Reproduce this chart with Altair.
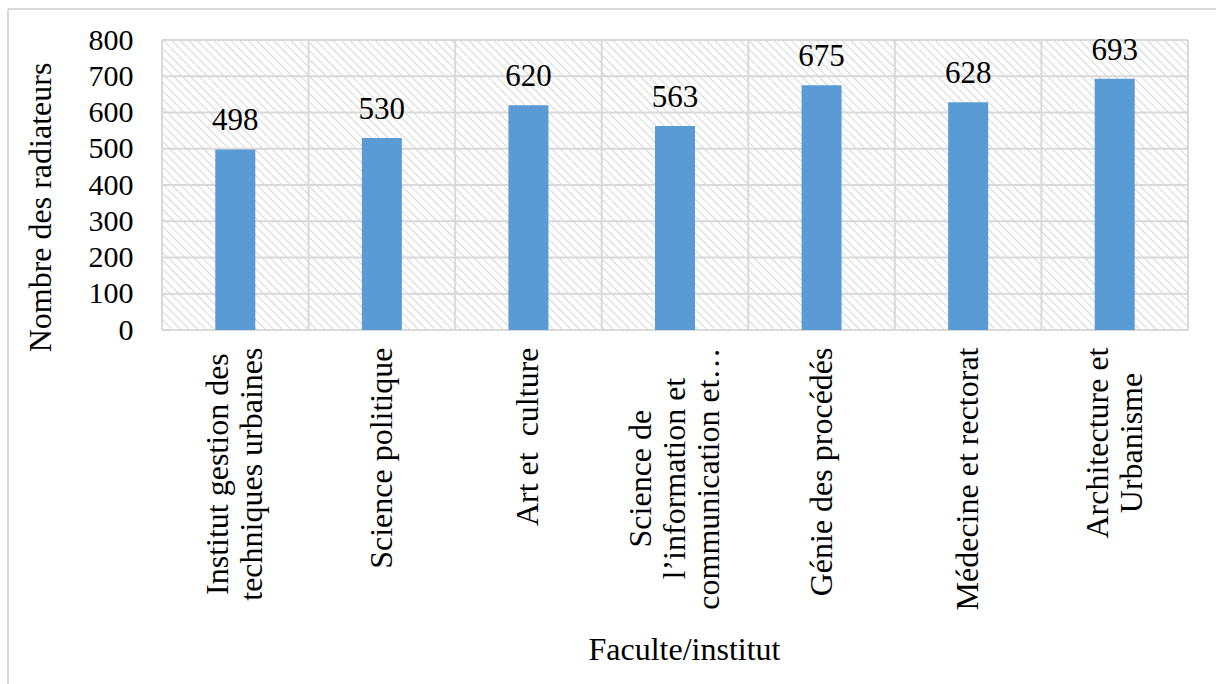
import base64
import altair as alt
import pandas as pd

# Number of radiators per faculty / institute
categories = [
    "Institut gestion des|techniques urbaines",
    "Science politique",
    "Art et\u00a0 culture",
    "Science de|l’information et|communication et…",
    "Génie des procédés",
    "Médecine et rectorat",
    "Architecture et|Urbanisme",
]
radiators = [498, 530, 620, 563, 675, 628, 693]
y_ticks = [0, 100, 200, 300, 400, 500, 600, 700, 800]

W, H = 1026, 290
FONT = "Liberation Serif"
LABEL_SIZE = 32
LINE_H = 34
BAR = "#5B9BD5"
GRID = "#d9d9d9"

# Advance widths of the serif face (1/1000 em), used to centre the
# rotated multi-line category labels just below the axis.
ADV = {
    " ": 250, "\u00a0": 250, "A": 722, "G": 722, "I": 333, "M": 889, "S": 556,
    "U": 722, "a": 444, "b": 500, "c": 444, "d": 500, "e": 444, "é": 444,
    "f": 333, "g": 500, "h": 500, "i": 278, "l": 278, "m": 778, "n": 500,
    "o": 500, "p": 500, "q": 500, "r": 333, "s": 389, "t": 278, "u": 500,
    "’": 333, "…": 1000,
}


def text_width(s):
    return sum(ADV.get(ch, 500) for ch in s) * LABEL_SIZE / 1000


def esc(s):
    return s.replace("\\", "\\\\").replace("'", "\\'")


pad_conditions = []
offset_conditions = []
for c in categories:
    lines = c.split("|")
    half = max(text_width(s) for s in lines) / 2
    test = f"datum.value === '{esc(c)}'"
    pad_conditions.append({"test": test, "value": round(17 + half, 1)})
    if len(lines) > 1:
        offset_conditions.append({"test": test, "value": -(len(lines) - 1) * LINE_H / 2})

df = pd.DataFrame({"cat": categories, "n": radiators})
ticks_df = pd.DataFrame({"n": y_ticks})

x_scale = alt.Scale(domain=categories, paddingInner=0, paddingOuter=0)
y_scale = alt.Scale(domain=[0, 800], nice=False)

x_axis = alt.Axis(
    labelAngle=270,
    labelAlign="center",
    labelBaseline="middle",
    labelExpr="split(datum.label, '|')",
    labelLineHeight=LINE_H,
    labelLimit=600,
    labelPadding={"condition": pad_conditions, "value": 17},
    labelOffset={"condition": offset_conditions, "value": 0},
    labelFont=FONT,
    labelFontSize=LABEL_SIZE,
    labelColor="black",
    domain=False,
    ticks=False,
    grid=False,
    titleFont=FONT,
    titleFontSize=32,
    titleFontWeight="normal",
    titleColor="black",
    titleX=522,
    titleY=329,
    titleBaseline="alphabetic",
    titleAlign="center",
)
y_axis = alt.Axis(
    values=y_ticks,
    labelFont=FONT,
    labelFontSize=30,
    labelColor="black",
    labelPadding=29,
    domain=False,
    ticks=False,
    grid=False,
    titleFont=FONT,
    titleFontSize=32,
    titleFontWeight="normal",
    titleColor="black",
    titleAngle=270,
    titleX=-112,
    titleY=167,
    titleBaseline="alphabetic",
    titleAlign="center",
)
X_TITLE = "Faculte/institut"
Y_TITLE = "Nombre des radiateurs"


def x_enc(**kw):
    return alt.X("cat:N", scale=x_scale, sort=categories, title=X_TITLE, axis=x_axis, **kw)


def y_enc():
    return alt.Y("n:Q", scale=y_scale, title=Y_TITLE, axis=y_axis)


# diagonal hatch fill of the plotting area
hatch_svg = (
    f"<svg xmlns='http://www.w3.org/2000/svg' width='{W}' height='{H}'>"
    "<defs><pattern id='h' width='6' height='6' patternUnits='userSpaceOnUse' "
    "patternTransform='rotate(-45)'>"
    "<line x1='0' y1='0' x2='0' y2='6' stroke='#d6d6d6' stroke-width='2'/>"
    "</pattern></defs>"
    f"<rect width='{W}' height='{H}' fill='white'/>"
    f"<rect width='{W}' height='{H}' fill='url(#h)'/></svg>"
)
hatch_url = "data:image/svg+xml;base64," + base64.b64encode(hatch_svg.encode("utf-8")).decode("ascii")

one = alt.Data(values=[{"k": 1}])

hatch = alt.Chart(one).mark_image(
    width=W, height=H, align="left", baseline="top", aspect=False
).encode(x=alt.value(0), y=alt.value(0), url=alt.value(hatch_url))

hgrid = alt.Chart(ticks_df).mark_rule(color=GRID, strokeWidth=2).encode(
    y=y_enc(),
    x=alt.value(0),
    x2=alt.value(W),
)

vgrid = alt.Chart(df).mark_rule(color=GRID, strokeWidth=2).encode(
    x=x_enc(bandPosition=0),
    y=alt.value(0),
    y2=alt.value(H),
)

right_edge = alt.Chart(one).mark_rule(color=GRID, strokeWidth=2).encode(
    x=alt.value(W), y=alt.value(0), y2=alt.value(H)
)

bars = alt.Chart(df).mark_bar(color=BAR, width=alt.RelativeBandSize(0.273)).encode(
    x=x_enc(),
    y=y_enc(),
)

labels = alt.Chart(df).mark_text(
    font=FONT, fontSize=31, color="black", baseline="alphabetic", dy=-19
).encode(
    x=x_enc(bandPosition=0.5),
    y=y_enc(),
    text=alt.Text("n:Q"),
)

# light frame around the whole figure (left and top edges)
frame_left = alt.Chart(one).mark_rule(color=GRID, strokeWidth=2).encode(
    x=alt.value(-154), y=alt.value(-31), y2=alt.value(H + 400)
)
frame_top = alt.Chart(one).mark_rule(color=GRID, strokeWidth=2).encode(
    x=alt.value(-154), x2=alt.value(W + 100), y=alt.value(-31)
)

chart = (
    alt.layer(hatch, hgrid, vgrid, right_edge, bars, labels, frame_left, frame_top)
    .properties(
        width=W,
        height=H,
        autosize=alt.AutoSizeParams(type="none"),
        padding={"left": 162, "top": 40, "right": 28, "bottom": 354},
        background="white",
    )
    .configure_view(stroke=None)
)

chart.save("out.html", embed_options={"renderer": "svg", "actions": False})
